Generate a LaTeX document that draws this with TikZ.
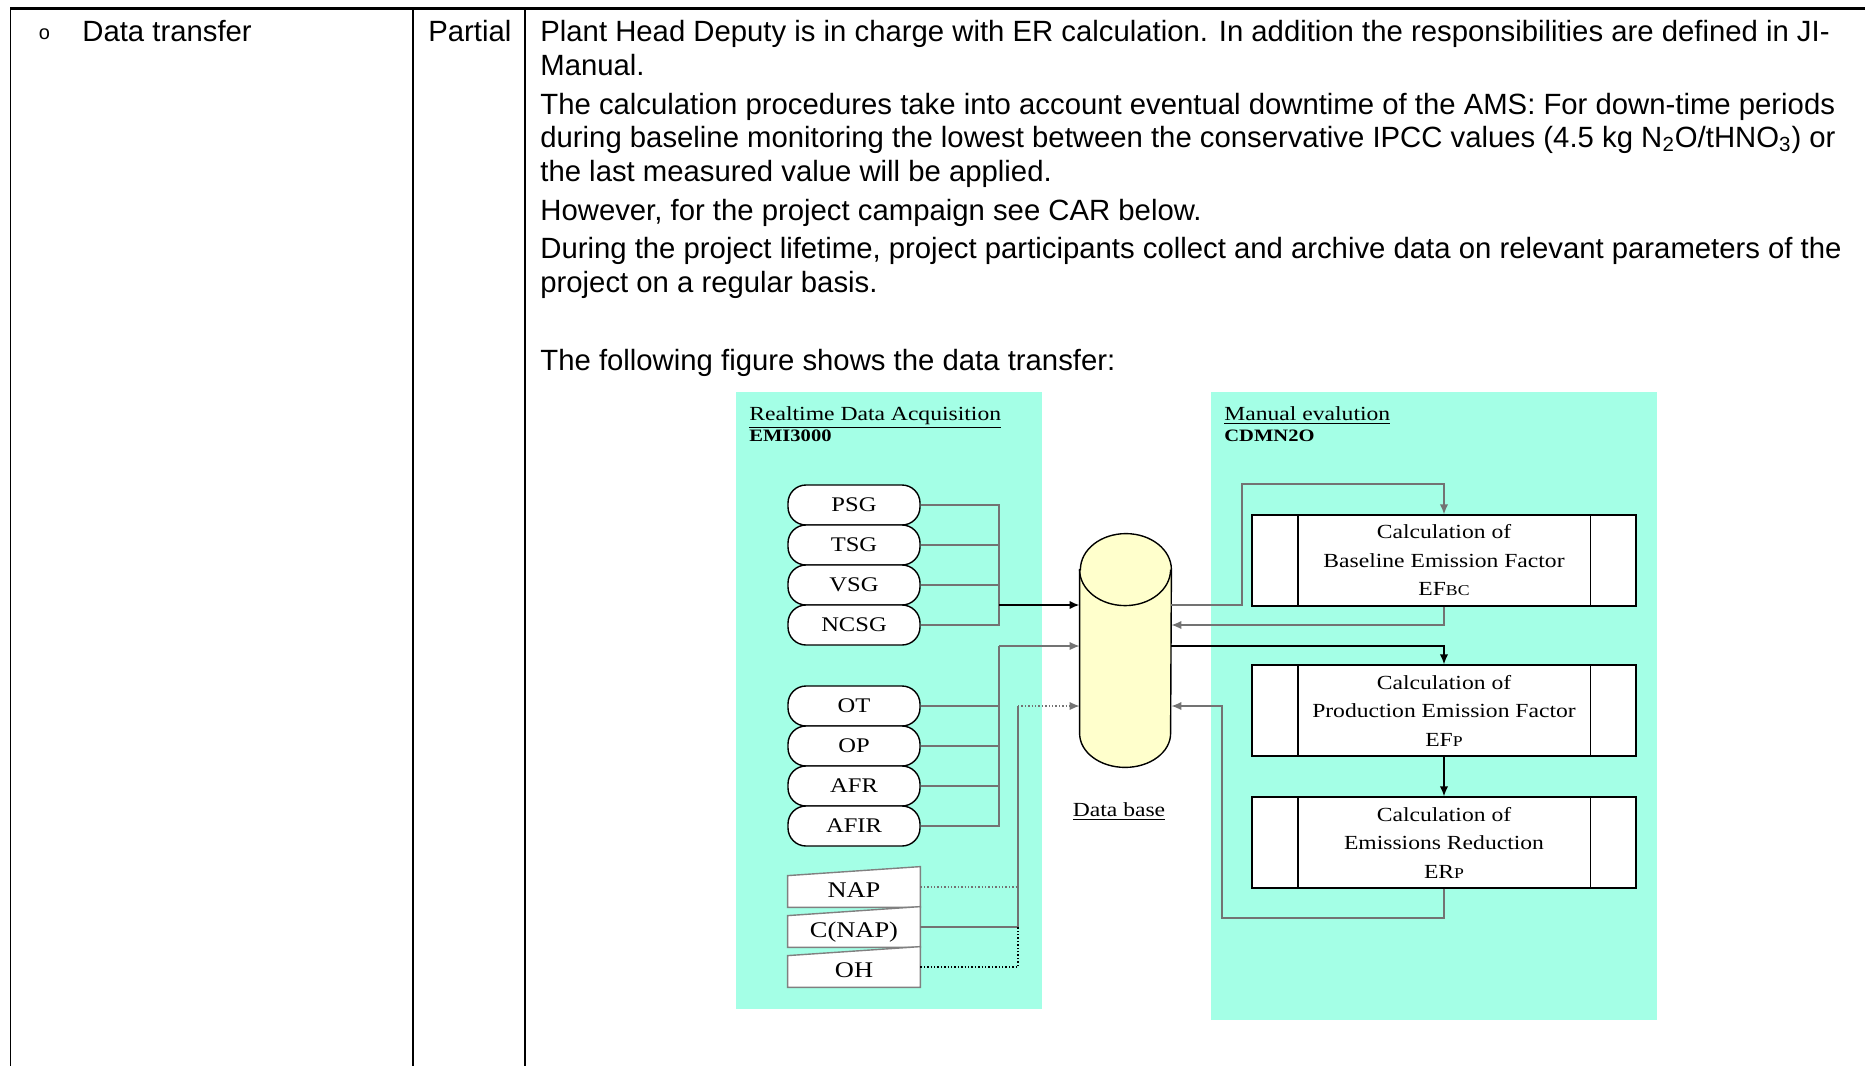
\documentclass[tikz,border=0pt]{standalone}
\usepackage{fontspec}
\setmainfont{Liberation Sans}
\newfontfamily\diafont[FakeStretch=1.18]{Liberation Serif}
\usepackage{tikz}
\usetikzlibrary{arrows.meta,shapes,backgrounds,positioning,calc}
\definecolor{panel-aqua}{RGB}{164,255,230}
\definecolor{db-yellow}{RGB}{255,255,204}

\begin{document}
\begin{tikzpicture}
      [x=0.5pt, y=-0.5pt, node distance=20pt, on grid,
       body/.style = {anchor=base west, inner sep=0pt,
         font=\fontsize{14.65}{16.75}\selectfont},
       title/.style = {anchor=base west, inner sep=0pt,
         font=\diafont\fontsize{10}{12}\selectfont},
       subtitle/.style = {anchor=base west, inner sep=0pt,
         font=\diafont\bfseries\fontsize{8.7}{10}\selectfont},
       sensor/.style = {shape=rectangle, rounded corners=9pt, draw,
         fill=white, line width=0.7pt, minimum width=66pt,
         minimum height=20pt, inner sep=0pt,
         font=\diafont\fontsize{10.4}{12}\selectfont},
       handinput/.style = {shape=rectangle, minimum width=66pt,
         minimum height=20pt, inner sep=0pt, text height=12.5pt,
         text depth=2.5pt, font=\diafont\fontsize{11.2}{13}\selectfont},
       calc box/.style = {shape=rectangle, draw, fill=white,
         line width=0.7pt, minimum width=192pt, minimum height=45.5pt,
         inner sep=0pt, align=center,
         font=\diafont\fontsize{10}{14.25}\selectfont},
       feed/.style = {draw=black!55, line width=0.7pt},
       link/.style = {draw=black, line width=0.7pt},
       post/.style = {->, >={Latex[length=5pt,width=4.2pt]}}]

      \useasboundingbox (0,0) rectangle (1865,1066);

      % table
      \draw [line width=1.5pt] (10,8) -- (1865,8);
      \foreach \x in {10.5,413,525} \draw [line width=0.9pt] (\x,8) -- (\x,1066);

      \node [body, font=\fontsize{10}{12}\selectfont] (Bullet) at (38.5,39.5) {o};
      \node [body] (Item) at (82,41.5) {Data transfer};
      \node [body] (State) at (428,41.5) {Partial};

      \node [body] (Resp) at (540,41.5) {Plant Head Deputy is in charge with ER calculation. In addition the responsibilities are defined in JI-};
      \node [body] (RespB) at (540,75) {Manual.};
      \node [body] (Proc) at (540,114) {The calculation procedures take into account eventual downtime of the AMS: For down-time periods};
      \node [body] (ProcB) at (540,147.5) {during baseline monitoring the lowest between the conservative IPCC values (4.5 kg N\textsubscript{2}O/tHNO\textsubscript{3}) or};
      \node [body] (ProcC) at (540,181.5) {the last measured value will be applied.};
      \node [body] (Campaign) at (540,220) {However, for the project campaign see CAR below.};
      \node [body] (Archive) at (540,258.5) {During the project lifetime, project participants collect and archive data on relevant parameters of the};
      \node [body] (ArchiveB) at (540,292) {project on a regular basis.};
      \node [body] (FigNote) at (540,370) {The following figure shows the data transfer:};

      % realtime acquisition
      \node [title] (RDA) at (749,420) {\underline{Realtime Data Acquisition}};
      \node [subtitle] (EMI) at (749,441) {EMI3000};

      \node [sensor] (PSG) at (854,505) {PSG};
      \node [sensor, below=of PSG] (TSG) {TSG};
      \node [sensor, below=of TSG] (VSG) {VSG};
      \node [sensor, below=of VSG] (NCSG) {NCSG};
      \node [sensor, below=40.5pt of NCSG] (OT) {OT};
      \node [sensor, below=of OT] (OP) {OP};
      \node [sensor, below=of OP] (AFR) {AFR};
      \node [sensor, below=of AFR] (AFIR) {AFIR};
      \node [handinput, below=30.5pt of AFIR] (NAP) {NAP};
      \node [handinput, below=of NAP] (CNAP) {C(NAP)};
      \node [handinput, below=of CNAP] (OH) {OH};

      % data base
      \node [minimum width=45.5pt, minimum height=116.5pt, inner sep=0pt]
      (DB) at (1125.5,650.5) {};
      \draw [fill=db-yellow, line width=0.7pt] ([yshift=-18pt]DB.north west)
      -- ([yshift=17pt]DB.south west) arc[start angle=180, end angle=360,
        x radius=22.75pt, y radius=17pt] -- ([yshift=-18pt]DB.north east)
      arc[start angle=0, end angle=180, x radius=22.75pt, y radius=18pt]
      -- cycle;
      \draw [line width=0.7pt] ([yshift=-18pt]DB.north west)
      arc[start angle=180, end angle=360, x radius=22.75pt, y radius=18pt];
      \node [title, anchor=base] (DBLabel) at (1119,816) {\underline{Data base}};

      % manual evaluation
      \node [title] (ManEv) at (1224,420) {\underline{Manual evalution}};
      \node [subtitle] (CDM) at (1224,441) {CDMN2O};

      \node [calc box] (BEF) at (1444,560.5)
      {Calculation of\\Baseline Emission Factor\\EF{\fontsize{7.5}{9}\selectfont BC}};
      \node [calc box, below=75pt of BEF] (PEF)
      {Calculation of\\Production Emission Factor\\EF{\fontsize{7.5}{9}\selectfont P}};
      \node [calc box, below=66pt of PEF] (ERP)
      {Calculation of\\Emissions Reduction\\ER{\fontsize{7.5}{9}\selectfont P}};
      \foreach \n in {BEF,PEF,ERP} {
        \draw [line width=0.7pt] ([xshift=23.25pt]\n.north west) -- ([xshift=23.25pt]\n.south west);
        \draw [line width=0.7pt] ([xshift=-23.25pt]\n.north east) -- ([xshift=-23.25pt]\n.south east);
      }

      \begin{scope}[on background layer]
        \fill [panel-aqua] (736,392) rectangle (1042,1009);
        \fill [panel-aqua] (1211,392) rectangle (1657,1020);
        \foreach \n in {NAP,CNAP,OH}
        \draw [fill=white, draw=black!50, line width=0.7pt] (\n.south west)
        -- ([yshift=-4.5pt]\n.north west) -- (\n.north east)
        -- (\n.south east) -- cycle;
      \end{scope}

      % connectors
      \coordinate (JoinA) at (999,605);
      \coordinate (JoinB) at (999,646);
      \coordinate (JoinC) at (1018,706);
      \coordinate (LoopA) at (1242,484);
      \coordinate (LoopB) at (1222,918);

      \foreach \n in {PSG,TSG,VSG,NCSG} \draw [feed] (\n.east) -| (JoinA);
      \draw [link, post, line width=1.3pt] (JoinA) -- (JoinA -| DB.west);
      \foreach \n in {OT,OP,AFR,AFIR} \draw [feed] (\n.east) -| (JoinB);
      \draw [feed, post] (JoinB) -- (JoinB -| DB.west);
      \draw [feed, densely dotted] (NAP.east) -| (JoinC);
      \draw [feed] (CNAP.east) -| (JoinC);
      \draw [link, densely dotted] (OH.east) -| (CNAP.east -| JoinC);
      \draw [feed, densely dotted, post] (JoinC) -- (JoinC -| DB.west);

      \draw [feed, post] (DB.east |- JoinA) -| (LoopA) -| (BEF.north);
      \draw [feed, post] (BEF.south) |- (DB.east |- NCSG);
      \draw [link, post] (DB.east |- JoinB) -| (PEF.north);
      \draw [link, post] (PEF.south) -- (ERP.north);
      \draw [feed, post] (ERP.south) |- (LoopB) |- (DB.east |- JoinC);
    \end{tikzpicture}
\end{document}
